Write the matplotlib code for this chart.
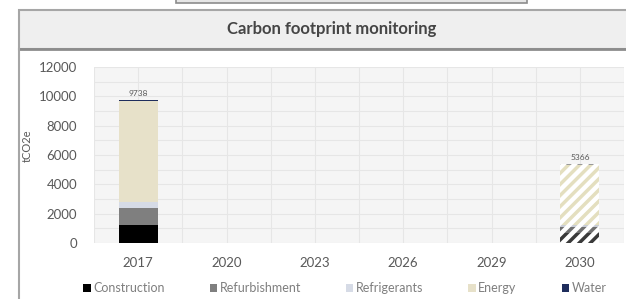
import numpy as np
import matplotlib.pyplot as plt
from matplotlib.patches import Rectangle
from matplotlib.lines import Line2D

plt.rcParams['font.family'] = ['Lato', 'DejaVu Sans']
plt.rcParams['hatch.linewidth'] = 2.5

years = ['2017', '2020', '2023', '2026', '2029', '2030']
series = ['Construction', 'Refurbishment', 'Refrigerants', 'Energy', 'Water']
colors = ['#000000', '#7f7f7f', '#d6dbe6', '#e7e1c9', '#1f2d5c']
hatch_colors = ['#3a3a3a', '#6f6f6f', '#c8ccd4', '#e4dfbf', '#9a9a9a']
construction = [1200, 0, 0, 0, 0, 650]
refurbishment = [1200, 0, 0, 0, 0, 450]
refrigerants = [400, 0, 0, 0, 0, 150]
energy = [6850, 0, 0, 0, 0, 4050]
water = [88, 0, 0, 0, 0, 66]
totals = [9738, None, None, None, None, 5366]
projected = [False, False, False, False, False, True]

data = [construction, refurbishment, refrigerants, energy, water]

fig = plt.figure(figsize=(6.26, 2.99), dpi=100, facecolor='white')

# header panel and frame
fig.patches.append(Rectangle((176/626, 296/299), 351/626, 0.02, transform=fig.transFigure,
                             facecolor='#e6e6e6', edgecolor='#8c8c8c', lw=1.2, clip_on=False))
fig.patches.append(Rectangle((19/626, 250/299), 0.99, 39/299, transform=fig.transFigure,
                             facecolor='#efefef', edgecolor='#a6a6a6', lw=1.5))
fig.lines.append(Line2D([19/626, 1], [250/299, 250/299], transform=fig.transFigure,
                        color='#8c8c8c', lw=2))
fig.lines.append(Line2D([19/626, 19/626], [0, 250/299], transform=fig.transFigure,
                        color='#a6a6a6', lw=1.5))
fig.text(332/626, 270/299, 'Carbon footprint monitoring', ha='center', va='center',
         fontsize=12, fontweight='bold', color='#454545')

ax = fig.add_axes([94/626, 56/299, 530/626, 176/299])
ax.set_facecolor('#f5f5f5')
x = np.arange(len(years))
bottom = np.zeros(len(years))
w = 0.44
for name, vals, c, hc in zip(series, data, colors, hatch_colors):
    vals = np.array(vals, dtype=float)
    for i in range(len(years)):
        if vals[i] == 0:
            continue
        if projected[i]:
            ax.bar(x[i], vals[i], w, bottom=bottom[i], facecolor='white', edgecolor=hc,
                   hatch='///', lw=0, zorder=3)
        else:
            ax.bar(x[i], vals[i], w, bottom=bottom[i], color=c, lw=0, zorder=3)
    bottom += vals
    ax.bar(0, 0, color=c, label=name)

for i, t in enumerate(totals):
    if t is not None:
        ax.text(x[i], bottom[i] + 250, str(t), ha='center', va='bottom', fontsize=6,
                color='#595959')

ax.set_xlim(-0.5, len(years) - 0.5)
ax.set_ylim(0, 12000)
ax.set_yticks(np.arange(0, 12001, 2000))
ax.set_xticks(x)
ax.set_xticklabels(years)
ax.set_xticks(np.arange(-0.5, len(years), 1), minor=True)
ax.set_yticks(np.arange(1000, 12000, 2000), minor=True)
ax.grid(which='both', color='#e6e6e6', lw=0.8, zorder=0)
ax.set_axisbelow(True)
for s in ax.spines.values():
    s.set_visible(False)
ax.tick_params(which='both', length=0)
ax.tick_params(axis='y', labelsize=9.5, labelcolor='#595959', pad=12)
ax.tick_params(axis='x', labelsize=9.5, labelcolor='#595959', pad=10)
ax.set_ylabel('tCO2e', fontsize=8, color='#595959')
ax.yaxis.set_label_coords(-0.115, 0.55)

fig.legend(*ax.get_legend_handles_labels(), loc='center left',
           bbox_to_anchor=(83/626, 11/299), ncol=5, frameon=False, fontsize=9,
           handlelength=0.6, handleheight=0.6, handletextpad=0.2, columnspacing=3.6,
           labelcolor='#7f7f7f', borderaxespad=0, borderpad=0)

plt.savefig('out.png', dpi=100)
